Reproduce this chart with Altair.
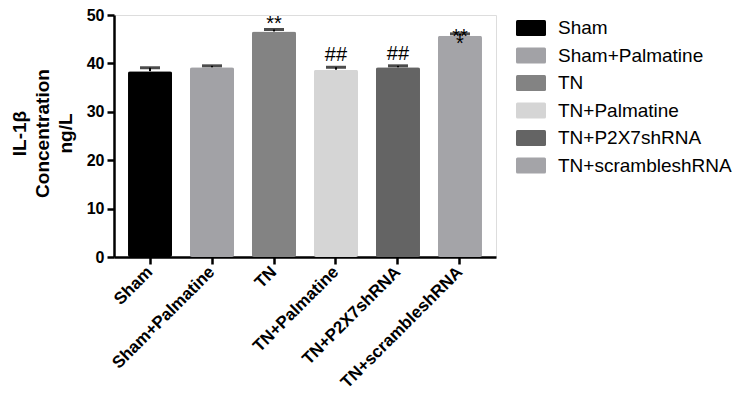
import altair as alt
import pandas as pd

groups = ["Sham", "Sham+Palmatine", "TN", "TN+Palmatine", "TN+P2X7shRNA", "TN+scrambleshRNA"]
means = [38.4, 39.2, 46.6, 38.7, 39.2, 45.7]
errs = [0.7, 0.3, 0.4, 0.5, 0.3, 0.4]
colors = ["#000000", "#a2a2a6", "#838383", "#d5d5d5", "#646464", "#a4a4a8"]

y_ticks = [0, 10, 20, 30, 40, 50]

# significance marks
star_groups = ["TN"]
hash_groups = ["TN+Palmatine", "TN+P2X7shRNA"]
scr_groups = ["TN+scrambleshRNA"]

df = pd.DataFrame({"group": groups, "mean": means, "err": errs})
df["top"] = df["mean"] + df["err"]

FONT = "Liberation Sans"

x = alt.X(
    "group:N",
    sort=groups,
    scale=alt.Scale(paddingInner=0.29, paddingOuter=0.226),
    axis=alt.Axis(
        title=None,
        labelAngle=-45,
        labelAlign="right",
        labelBaseline="middle",
        labelFontSize=17,
        labelFontWeight="bold",
        labelFont=FONT,
        labelColor="black",
        labelPadding=5,
        tickSize=7,
        tickWidth=2.5,
        tickColor="black",
        domainWidth=2.5,
        domainColor="black",
    ),
)

y_axis = alt.Axis(
    title=["IL-1β", "Concentration", "ng/L"],
    titleFont=FONT,
    titleFontSize=19,
    titleFontWeight="bold",
    titleColor="black",
    titleLineHeight=23,
    titleAngle=270,
    titleAlign="center",
    titleBaseline="middle",
    titleX=-95,
    titleY=118,
    values=y_ticks,
    labelFont=FONT,
    labelFontSize=16,
    labelFontWeight="bold",
    labelColor="black",
    labelPadding=3,
    tickSize=7,
    tickWidth=2.5,
    tickColor="black",
    domainWidth=2.5,
    domainColor="black",
    grid=False,
)

y_scale = alt.Scale(domain=[0, 50], nice=False)

legend_path = ("M-0.9,-0.53 H0.9 Q1,-0.53 1,-0.43 V0.43 Q1,0.53 0.9,0.53 "
               "H-0.9 Q-1,0.53 -1,0.43 V-0.43 Q-1,-0.53 -0.9,-0.53 Z")

bars = alt.Chart(df).mark_bar(cornerRadius=2).encode(
    x=x,
    y=alt.Y("mean:Q", scale=y_scale, axis=y_axis),
    color=alt.Color(
        "group:N",
        sort=groups,
        scale=alt.Scale(domain=groups, range=colors),
        legend=alt.Legend(
            title=None,
            orient="none",
            legendX=402,
            legendY=-2,
            padding=0,
            rowPadding=2.5,
            symbolType=legend_path,
            symbolSize=900,
            symbolStrokeWidth=0,
            symbolOpacity=1,
            labelFont=FONT,
            labelFontSize=19,
            labelColor="black",
            labelOffset=12,
            labelLimit=300,
        ),
    ),
)

stems = alt.Chart(df).mark_rule(color="black", strokeWidth=2).encode(
    x=alt.X("group:N", sort=groups),
    y=alt.Y("mean:Q", scale=y_scale),
    y2="top:Q",
)

caps = alt.Chart(df).mark_tick(color="black", thickness=3, size=20).encode(
    x=alt.X("group:N", sort=groups),
    y=alt.Y("top:Q", scale=y_scale),
)

def ann(groups_sel, text, dy):
    d = df[df["group"].isin(groups_sel)].copy()
    d["label"] = text
    return alt.Chart(d).mark_text(
        font=FONT, fontSize=20, color="black", baseline="alphabetic", dy=dy
    ).encode(
        x=alt.X("group:N", sort=groups),
        y=alt.Y("top:Q", scale=y_scale),
        text="label:N",
    )

chart = alt.layer(
    bars,
    stems,
    caps,
    ann(star_groups, "**", 0),
    ann(hash_groups, "##", -6),
    ann(scr_groups, "**", 9),
    ann(scr_groups, "*", 16),
).properties(
    width=382,
    height=242,
    autosize=alt.AutoSizeParams(type="none"),
    padding={"left": 106, "top": 7, "right": 239, "bottom": 141},
).configure_view(stroke=None).configure(background="white")

chart.save("out.html", embed_options={"renderer": "svg", "actions": False})
